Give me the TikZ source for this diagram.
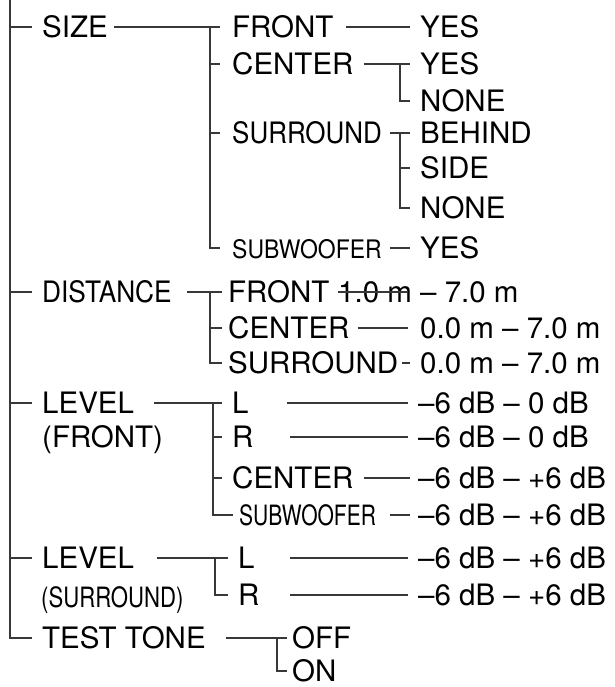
\documentclass[tikz,border=0pt]{standalone}
\usepackage{fontspec}
\usepackage{graphicx}
\setmainfont{TeX Gyre Heros}
\begin{document}
\begin{tikzpicture}[x=1pt,y=-1pt,
  lbl/.style={anchor=west,inner sep=0pt,font=\fontsize{29.5}{31}\selectfont,text height=21pt,text depth=0pt},
  ln/.style={line width=1.4pt,draw=black!78},
  sq/.style={line width=1.4pt,draw=black!78}]
\useasboundingbox (0,0) rectangle (614,687);
\newcommand{\cond}[2]{\scalebox{#1}[1]{#2}}
% level 1
\coordinate (top) at (10,0);
\node[lbl] (size) at (42,27) {SIZE};
\node[lbl] (dist) at (42,292) {\cond{0.89}{DISTANCE}};
\node[lbl] (lf) at (42,403) {LEVEL};
\node[lbl] (lf2) at (42,437) {(FRONT)};
\node[lbl] (ls) at (42,558) {LEVEL};
\node[lbl] (ls2) at (41,597) {\fontsize{28}{30}\selectfont\cond{0.79}{(SURROUND)}};
\node[lbl] (tt) at (42,638) {TEST TONE};
% size
\node[lbl] (sfront) at (232,27) {FRONT};
\node[lbl] (scenter) at (232,64) {CENTER};
\node[lbl] (ssur) at (232,133) {\cond{0.88}{SURROUND}};
\node[lbl] (ssub) at (232,248) {\fontsize{25.5}{27}\selectfont\cond{0.9}{SUBWOOFER}};
\node[lbl] (v1) at (420,27) {YES};
\node[lbl] (v2) at (420,64) {YES};
\node[lbl] (v3) at (420,101) {NONE};
\node[lbl] (v4) at (420,133) {BEHIND};
\node[lbl] (v5) at (420,168) {SIDE};
\node[lbl] (v6) at (420,208) {NONE};
\node[lbl] (v7) at (420,248) {YES};
% distance
\node[lbl] (dfront) at (228,292) {FRONT};
\node[lbl] (dcenter) at (228,328) {CENTER};
\node[lbl] (dsur) at (228,363) {SURROUND};
\node[lbl] (dv1) at (338,292) {1.0 m – 7.0 m};
\node[lbl] (dv2) at (420,328) {0.0 m – 7.0 m};
\node[lbl] (dv3) at (420,363) {0.0 m – 7.0 m};
% level front
\node[lbl] (lfl) at (232,403) {L};
\node[lbl] (lfr) at (232,437) {R};
\node[lbl] (lfc) at (232,478) {CENTER};
\node[lbl] (lfs) at (239,515) {\fontsize{28}{30}\selectfont\cond{0.75}{SUBWOOFER}};
\node[lbl] (lv1) at (418,403) {–6 dB – 0 dB};
\node[lbl] (lv2) at (418,437) {–6 dB – 0 dB};
\node[lbl] (lv3) at (418,478) {–6 dB – +6 dB};
\node[lbl] (lv4) at (418,515) {–6 dB – +6 dB};
% level surround
\node[lbl] (lsl) at (238,558) {L};
\node[lbl] (lsr) at (238,595) {R};
\node[lbl] (sv1) at (418,558) {–6 dB – +6 dB};
\node[lbl] (sv2) at (418,595) {–6 dB – +6 dB};
% test tone
\node[lbl] (off) at (292,638) {OFF};
\node[lbl] (on) at (292,671) {ON};

% main bar
\draw[sq] (top) |- ([xshift=-10pt]tt.west);
\foreach \n in {size,dist,lf,ls}
  \draw[ln] (top |- \n.west) -- ([xshift=-10pt]\n.west);

% size branch
\draw[ln] ([xshift=6pt]size.east) -- ([xshift=-12pt]sfront.west);
\draw[sq] ([xshift=-22pt]sfront.west) |- ([xshift=-12pt]ssub.west);
\foreach \n in {scenter,ssur}
  \draw[ln] ([xshift=-22pt]\n.west) -- ([xshift=-12pt]\n.west);
\draw[ln] ([xshift=12pt]sfront.east) -- ([xshift=-10pt]v1.west);
\draw[ln] ([xshift=10pt]scenter.east) -- ([xshift=-10pt]v2.west);
\draw[sq] ([xshift=-20pt]v2.west) |- ([xshift=-10pt]v3.west);
\draw[ln] ([xshift=8pt]ssur.east) -- ([xshift=-10pt]v4.west);
\draw[sq] ([xshift=-20pt]v4.west) |- ([xshift=-10pt]v6.west);
\draw[ln] ([xshift=-20pt]v5.west) -- ([xshift=-10pt]v5.west);
\draw[ln] ([xshift=8pt]ssub.east) -- ([xshift=-10pt]v7.west);

% distance branch
\draw[ln] ([xshift=15pt]dist.east) -- ([xshift=-6pt]dfront.west);
\draw[sq] ([xshift=-18pt]dfront.west) |- ([xshift=-6pt]dsur.west);
\draw[ln] ([xshift=-18pt]dcenter.west) -- ([xshift=-6pt]dcenter.west);
\coordinate (dv1m) at (408,292);
\draw[ln] (dv1.west) -- (dv1m);
\draw[ln] ([xshift=8pt]dcenter.east) -- ([xshift=-12pt]dv2.west);
\draw[ln] ([xshift=4pt]dsur.east |- dv3.west) -- ([xshift=-10pt]dv3.west);

% level front branch
\draw[ln] ([xshift=20pt]lf.east) -- ([xshift=-10pt]lfl.west);
\draw[sq] ([xshift=-19pt]lfl.west) |- ([xshift=-6pt]lfs.west);
\foreach \n in {lfr,lfc}
  \draw[ln] ([xshift=-19pt]\n.west) -- ([xshift=-10pt]\n.west);
\draw[ln] (287,403) -- ([xshift=-10pt]lv1.west);
\draw[ln] (290,437) -- ([xshift=-10pt]lv2.west);
\draw[ln] ([xshift=10pt]lfc.east) -- ([xshift=-8pt]lv3.west);
\draw[ln] ([xshift=14pt]lfs.east) -- ([xshift=-8pt]lv4.west);

% level surround branch
\draw[ln] ([xshift=23pt]ls.east) -- ([xshift=-10pt]lsl.west);
\draw[sq] ([xshift=-23pt]lsl.west) |- ([xshift=-10pt]lsr.west);
\draw[ln] (290,558) -- ([xshift=-10pt]sv1.west);
\draw[ln] (290,595) -- ([xshift=-10pt]sv2.west);

% test tone branch
\draw[ln] ([xshift=20pt]tt.east) -- ([xshift=-5pt]off.west);
\draw[sq] ([xshift=-15pt]off.west) |- ([xshift=-5pt]on.west);
\end{tikzpicture}
\end{document}
